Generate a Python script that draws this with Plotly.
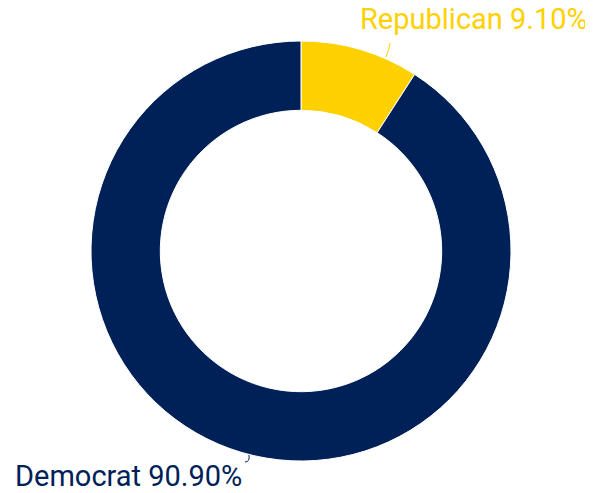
import plotly.graph_objects as go

labels = ["Republican", "Democrat"]
values = [9.1, 90.9]
colors = ["#FFD100", "#002157"]

W, H = 593, 493
OFF = 8  # page body margin offset
ML, MR, MT, MB = 0, 7, 33, 40
PW, PH = W - ML - MR, H - MT - MB

def px(x):
    return (x - OFF - ML) / PW

def py(y):
    return (H - MB - (y - OFF)) / PH

total = sum(values)
fig = go.Figure(go.Pie(
    labels=labels,
    values=values,
    hole=0.67,
    sort=False,
    direction="clockwise",
    rotation=0,
    marker=dict(colors=colors, line=dict(color="#FFFFFF", width=1)),
    textinfo="none",
    hoverinfo="label+percent",
    showlegend=False,
))

# outside labels with short leader lines (screen pixel positions)
label_pos = [
    dict(x=590, y=19, xanchor="right"),
    dict(x=13, y=476, xanchor="left"),
]
leaders = [
    [(386, 57), (389, 50), (390, 43)],
    [(249, 455), (250, 462), (245, 462)],
]
for lab, val, col, pos, ld in zip(labels, values, colors, label_pos, leaders):
    fig.add_annotation(
        x=px(pos["x"]), y=py(pos["y"]), xref="paper", yref="paper",
        xanchor=pos["xanchor"], yanchor="middle",
        text=f"{lab} {val / total * 100:.2f}%",
        showarrow=False,
        font=dict(family="Roboto", size=29, color=col),
    )
    (x0, y0), (x1, y1), (x2, y2) = ld
    fig.add_shape(
        type="path", xref="paper", yref="paper",
        path=f"M {px(x0)} {py(y0)} Q {px(x1)} {py(y1)} {px(x2)} {py(y2)}",
        line=dict(color=col, width=1),
    )

fig.update_layout(
    width=W, height=H,
    margin=dict(t=MT, b=MB, l=ML, r=MR, autoexpand=False),
    paper_bgcolor="white",
    font=dict(family="Roboto"),
)
fig.write_html("out.html")
